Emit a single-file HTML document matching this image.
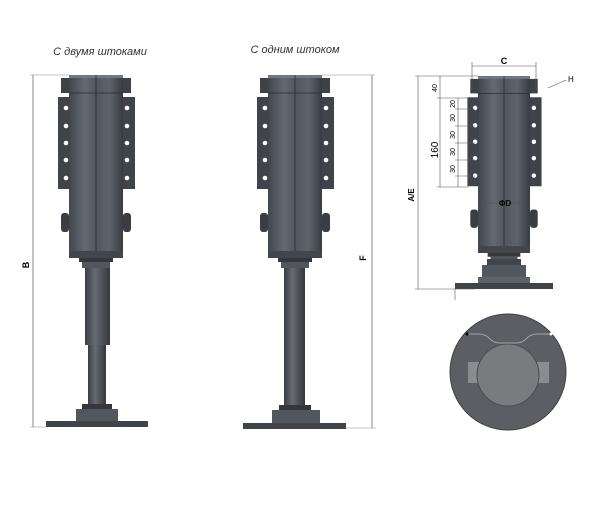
<!DOCTYPE html>
<html><head><meta charset="utf-8"><style>
html,body{margin:0;padding:0;background:#fff;width:600px;height:524px;overflow:hidden}
</style></head><body>
<svg width="600" height="524" viewBox="0 0 600 524" xmlns="http://www.w3.org/2000/svg" font-family="Liberation Sans, sans-serif">
<defs>
<linearGradient id="cyl" x1="0" x2="1" y1="0" y2="0">
<stop offset="0" stop-color="#42464d"/><stop offset="0.3" stop-color="#646972"/><stop offset="0.5" stop-color="#52565e"/><stop offset="0.75" stop-color="#5e636b"/><stop offset="1" stop-color="#383c42"/></linearGradient>
<linearGradient id="rod" x1="0" x2="1"><stop offset="0" stop-color="#3a3d43"/><stop offset="0.4" stop-color="#676b72"/><stop offset="1" stop-color="#34373c"/></linearGradient>
<g id="top">
<rect x="-8" y="3" width="8" height="15" fill="#3e4147"/><rect x="54" y="3" width="8" height="15" fill="#3e4147"/>
<rect x="0" y="0" width="54" height="183" fill="url(#cyl)"/>
<rect x="0" y="0" width="54" height="3" fill="#737780"/>
<line x1="0" y1="18" x2="54" y2="18" stroke="#2a2d32" stroke-width="0.8"/>
<line x1="27" y1="0" x2="27" y2="183" stroke="#25282c" stroke-width="0.7"/>
<rect x="-11" y="22" width="12" height="92" fill="#404349"/><rect x="54" y="22" width="12" height="92" fill="#404349"/>
<g fill="#fff"><circle cx="-3" cy="33" r="2.3"/><circle cx="-3" cy="51" r="2.3"/><circle cx="-3" cy="68" r="2.3"/><circle cx="-3" cy="85" r="2.3"/><circle cx="-3" cy="103" r="2.3"/>
<circle cx="58" cy="33" r="2.3"/><circle cx="58" cy="51" r="2.3"/><circle cx="58" cy="68" r="2.3"/><circle cx="58" cy="85" r="2.3"/><circle cx="58" cy="103" r="2.3"/></g>
<rect x="-8" y="138" width="8" height="19" rx="3" fill="#3a3d43"/><rect x="54" y="138" width="8" height="19" rx="3" fill="#3a3d43"/>
<rect x="0" y="176" width="54" height="7" fill="#42464c"/>
<rect x="10" y="183" width="34" height="4" fill="#34373c"/><rect x="13" y="187" width="28" height="6" fill="#52565d"/>
</g>
</defs>

<text x="100" y="55" font-size="11" font-style="italic" fill="#333" text-anchor="middle">С двумя штоками</text>
<text x="295" y="53" font-size="11" font-style="italic" fill="#333" text-anchor="middle">С одним штоком</text>

<!-- left jack -->
<use href="#top" x="69" y="75"/>
<rect x="85" y="268" width="25" height="77" fill="url(#rod)"/>
<rect x="88" y="345" width="18" height="60" fill="url(#rod)"/>
<rect x="82" y="404" width="30" height="5" fill="#34373c"/>
<rect x="76" y="409" width="42" height="12" fill="#52565d"/>
<rect x="46" y="421" width="102" height="6" fill="#404348"/>
<line x1="33" y1="75" x2="33" y2="427" stroke="#555" stroke-width="0.7"/>
<line x1="30" y1="75" x2="69" y2="75" stroke="#888" stroke-width="0.5"/>
<line x1="30" y1="427" x2="46" y2="427" stroke="#888" stroke-width="0.5"/>
<text x="29" y="265" font-size="9" font-weight="bold" transform="rotate(-90 29 265)" text-anchor="middle">B</text>

<!-- middle jack -->
<use href="#top" x="268" y="75"/>
<rect x="284" y="268" width="21" height="139" fill="url(#rod)"/>
<rect x="279" y="405" width="32" height="5" fill="#34373c"/>
<rect x="272" y="410" width="48" height="14" fill="#52565d"/>
<rect x="243" y="423" width="103" height="6" fill="#404348"/>
<line x1="372" y1="75" x2="372" y2="428" stroke="#555" stroke-width="0.7"/>
<line x1="322" y1="75" x2="375" y2="75" stroke="#888" stroke-width="0.5"/>
<line x1="346" y1="428" x2="376" y2="428" stroke="#888" stroke-width="0.5"/>
<text x="366" y="258" font-size="9" font-weight="bold" transform="rotate(-90 366 258)" text-anchor="middle">F</text>

<!-- right jack -->
<g transform="translate(478,76) scale(0.963,0.967)"><use href="#top"/></g>
<rect x="487" y="259" width="34" height="6" fill="#42454b"/>
<rect x="482" y="265" width="44" height="12" fill="#52565d"/>
<rect x="478" y="277" width="52" height="6" fill="#5d6168"/>
<rect x="455" y="283" width="98" height="6" fill="#404348"/>
<g stroke="#555" stroke-width="0.6" fill="none">
<line x1="418" y1="76" x2="418" y2="289"/>
<line x1="415" y1="76" x2="478" y2="76"/><line x1="415" y1="289" x2="475" y2="289"/>
<line x1="440" y1="76" x2="440" y2="187"/>
<line x1="437" y1="98" x2="468" y2="98"/><line x1="437" y1="187" x2="468" y2="187"/>
<line x1="458" y1="98" x2="458" y2="187"/>
<line x1="455" y1="109" x2="475" y2="109"/><line x1="455" y1="126" x2="475" y2="126"/><line x1="455" y1="143" x2="475" y2="143"/><line x1="455" y1="160" x2="475" y2="160"/><line x1="455" y1="176" x2="475" y2="176"/>
<line x1="472" y1="66" x2="536" y2="66"/><line x1="472" y1="62" x2="472" y2="90"/><line x1="536" y1="62" x2="536" y2="90"/>
<line x1="478" y1="203" x2="530" y2="203"/>
<line x1="548" y1="88" x2="566" y2="80"/>
<line x1="455" y1="289" x2="455" y2="300"/>
</g>
<text x="504" y="64" font-size="9" font-weight="bold" text-anchor="middle">C</text>
<text x="568" y="82" font-size="8">H</text>
<text x="505" y="206" font-size="8" font-weight="bold" text-anchor="middle">ΦD</text>
<text x="414" y="195" font-size="8" font-weight="bold" transform="rotate(-90 414 195)" text-anchor="middle">A/E</text>
<text x="438" y="150" font-size="10" transform="rotate(-90 438 150)" text-anchor="middle">160</text>
<g font-size="7" text-anchor="middle">
<text x="437" y="88" transform="rotate(-90 437 88)">40</text>
<text x="455" y="104" transform="rotate(-90 455 104)">20</text>
<text x="455" y="118" transform="rotate(-90 455 118)">30</text>
<text x="455" y="135" transform="rotate(-90 455 135)">30</text>
<text x="455" y="152" transform="rotate(-90 455 152)">30</text>
<text x="455" y="169" transform="rotate(-90 455 169)">30</text>
</g>

<!-- bottom view -->
<circle cx="508" cy="372" r="58" fill="#5c5e63" stroke="#3f4144" stroke-width="1"/>
<rect x="468" y="362" width="12" height="21" fill="#8a8c90"/>
<rect x="537" y="362" width="12" height="21" fill="#8a8c90"/>
<circle cx="508" cy="375" r="31" fill="#797b7f" stroke="#4a4c50"/>
<path d="M467 334 L478 334 Q486 334 490 339 Q494 343 500 343 L516 343 Q522 343 526 339 Q530 334 538 334 L551 334" stroke="#a0a2a6" stroke-width="1" fill="none"/>
<circle cx="467" cy="334" r="1.5" fill="#000"/><circle cx="551" cy="334" r="1.5" fill="#fff"/>
</svg>
</body></html>
